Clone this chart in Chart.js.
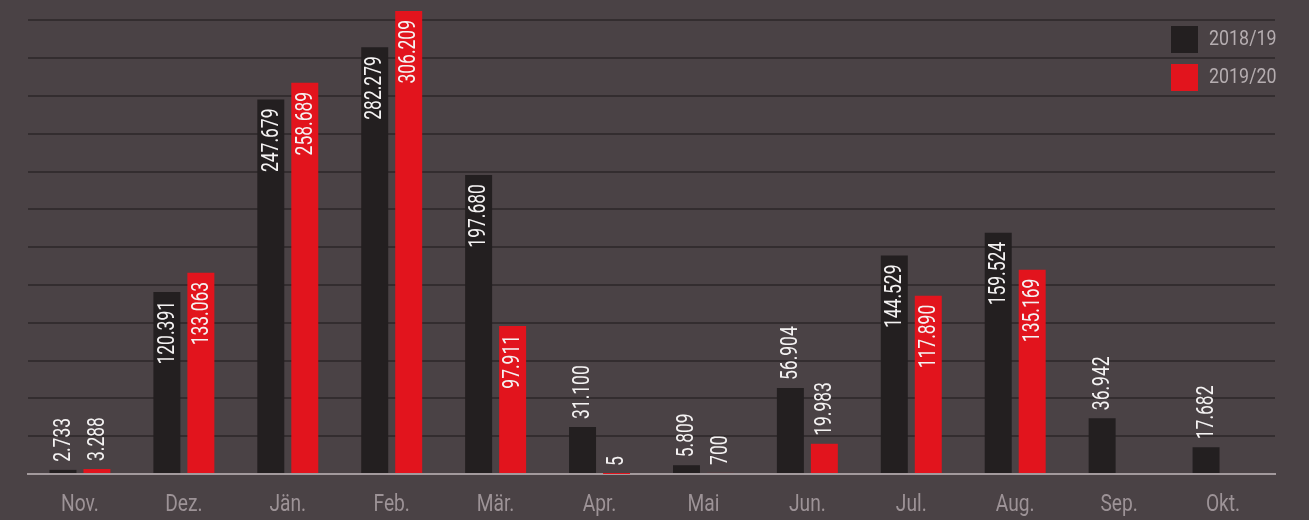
<!DOCTYPE html>
<html>
<head>
<meta charset="utf-8">
<script src="https://cdn.jsdelivr.net/npm/chart.js@4.4.1/dist/chart.umd.min.js"></script>
<style>
  html, body { margin: 0; padding: 0; background: #4a4245; }
  #wrap { width: 1309px; height: 520px; }
</style>
</head>
<body>
<div id="wrap"><canvas id="MonateChart" width="1309" height="520"></canvas></div>
<script>
var monate = ['Nov.', 'Dez.', 'Jän.', 'Feb.', 'Mär.', 'Apr.', 'Mai', 'Jun.', 'Jul.', 'Aug.', 'Sep.', 'Okt.'];
var saison1819 = [2733, 120391, 247679, 282279, 197680, 31100, 5809, 56904, 144529, 159524, 36942, 17682];
var saison1920 = [3288, 133063, 258689, 306209, 97911, 5, 700, 19983, 117890, 135169, null, null];
var legendeNamen = ['2018/19', '2019/20'];
var yTicks = [0, 25000, 50000, 75000, 100000, 125000, 150000, 175000, 200000, 225000, 250000, 275000, 300000];

var schrift = "Roboto, 'Liberation Sans', sans-serif";
var farben = ['#231f20', '#e2141d'];

function formatZahl(v) {
    return String(v).replace(/\B(?=(\d{3})+(?!\d))/g, '.');
}

//schmale Schrift: Text in Laufrichtung stauchen
function schmalerText(ctx, text, x, y, faktor) {
    ctx.save();
    ctx.translate(x, y);
    ctx.scale(faktor, 1);
    ctx.fillText(text, 0, 0);
    ctx.restore();
}

//Werte an den Balken
var wertePlugin = {
    id: 'werte',
    afterDatasetsDraw: function (chart) {
        var ctx = chart.ctx;
        ctx.save();
        ctx.fillStyle = '#f4f2f2';
        ctx.font = '23px ' + schrift;
        ctx.textBaseline = 'middle';
        chart.data.datasets.forEach(function (ds, i) {
            var meta = chart.getDatasetMeta(i);
            meta.data.forEach(function (bar, j) {
                var v = ds.data[j];
                if (v === null || v === undefined) return;
                var hoehe = bar.base - bar.y;
                ctx.save();
                if (hoehe > 100) {
                    ctx.translate(bar.x, bar.y + 9);
                    ctx.rotate(-Math.PI / 2);
                    ctx.textAlign = 'right';
                } else {
                    ctx.translate(bar.x, bar.y - 8);
                    ctx.rotate(-Math.PI / 2);
                    ctx.textAlign = 'left';
                }
                schmalerText(ctx, formatZahl(v), 0, 1, 0.76);
                ctx.restore();
            });
        });
        ctx.restore();
    }
};

//Monatsnamen und Legende
var beschriftungPlugin = {
    id: 'beschriftung',
    afterDraw: function (chart) {
        var ctx = chart.ctx;
        var xAchse = chart.scales.x;
        ctx.save();
        ctx.textBaseline = 'middle';

        ctx.font = '24px ' + schrift;
        ctx.textAlign = 'center';
        ctx.fillStyle = '#9d9397';
        monate.forEach(function (m, i) {
            schmalerText(ctx, m, xAchse.getPixelForTick(i), 505, 0.8);
        });

        ctx.font = '21px ' + schrift;
        ctx.textAlign = 'left';
        legendeNamen.forEach(function (name, i) {
            var y = 26 + i * 38;
            ctx.fillStyle = farben[i];
            ctx.fillRect(1171, y, 27, 27);
            ctx.fillStyle = '#b5adb0';
            schmalerText(ctx, name, 1209, y + 14, 0.85);
        });
        ctx.restore();
    }
};

var ctx = document.getElementById('MonateChart').getContext('2d');

var monateChart = new Chart(ctx, {
    type: 'bar',
    data: {
        labels: monate,
        datasets: [{
            label: legendeNamen[0],
            data: saison1819,
            backgroundColor: farben[0],
            borderWidth: 0
        },
        {
            label: legendeNamen[1],
            data: saison1920,
            backgroundColor: farben[1],
            borderWidth: 0
        }]
    },
    options: {
        responsive: false,
        animation: false,
        layout: {
            padding: { left: 28, right: 34, top: 0, bottom: 46 }
        },
        categoryPercentage: 0.654,
        barPercentage: 0.794,
        scales: {
            x: {
                grid: { display: false, drawTicks: false },
                border: { color: '#a39a9d', width: 2 },
                ticks: { display: false }
            },
            y: {
                min: 0,
                max: 313500,
                afterBuildTicks: function (axis) {
                    axis.ticks = yTicks.map(function (v) { return { value: v }; });
                },
                border: { display: false },
                grid: {
                    drawTicks: false,
                    lineWidth: 2,
                    color: '#332d2f'
                },
                ticks: { display: false }
            }
        },
        plugins: {
            legend: { display: false },
            tooltip: { enabled: false }
        }
    },
    plugins: [wertePlugin, beschriftungPlugin]
});
</script>
</body>
</html>
